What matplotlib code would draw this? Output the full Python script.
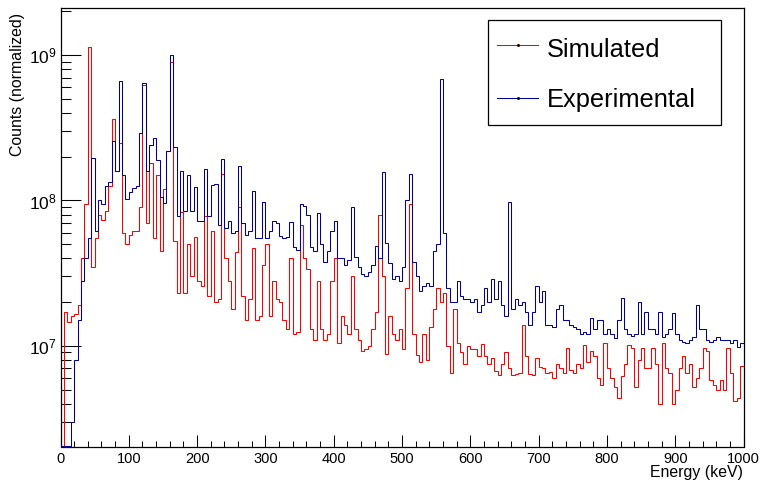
import numpy as np
import matplotlib
matplotlib.use("Agg")
import matplotlib.pyplot as plt
from matplotlib.patches import Rectangle
from matplotlib.lines import Line2D
from matplotlib.ticker import LogLocator, MultipleLocator, LogFormatterMathtext, NullFormatter

plt.rcParams['font.family'] = ['Liberation Sans', 'DejaVu Sans']
plt.rcParams['mathtext.fontset'] = 'custom'
plt.rcParams['mathtext.rm'] = 'Liberation Sans'
plt.rcParams['mathtext.it'] = 'Liberation Sans:italic'
plt.rcParams['mathtext.bf'] = 'Liberation Sans:bold'

# Histogram binning (keV)
bin_width = 5
energy_min, energy_max = 0, 1000

# Bin contents in units of 1e6 counts, one value per 5 keV bin
simulated = [
    0, 17, 14.5, 16, 16.5, 19, 40, 95, 1130, 35,
    55, 80, 73, 85, 125, 365, 160, 250, 60, 50,
    58, 62, 62, 90, 620, 70, 180, 55, 150, 45,
    120, 220, 900, 53, 23, 83, 23, 50, 30, 56,
    28, 26, 78, 22, 62, 20, 21, 152, 40, 28,
    18, 44, 90, 22, 15, 21, 47, 15, 16, 36,
    50, 16, 28, 21, 20, 15, 13, 40, 12, 12.5,
    68, 40, 34, 13, 11, 28, 13, 11, 12, 28,
    40, 10.5, 16, 14, 12, 30, 13, 11, 9.2, 9.5,
    10, 13, 17, 80, 30, 8.8, 16, 12, 11, 13,
    9.5, 25, 95, 12, 8.7, 7.7, 12, 8, 13.5, 18,
    25, 20, 23, 10, 6.5, 18, 10.4, 9, 7.5, 10,
    9.5, 9.5, 8.5, 10.3, 8.5, 7.5, 8.2, 6.7, 6.3, 7.5,
    9, 7, 6.3, 6.4, 6.5, 14, 8.5, 6.4, 6.3, 8.3,
    7.2, 7, 6.5, 6.6, 6, 7.5, 7, 6.5, 9.6, 6.8,
    6.5, 7.5, 7, 10.2, 7.8, 9.2, 8.5, 6, 5.4, 10.4,
    7, 6, 5.2, 4.4, 6.2, 7.5, 10.2, 9.6, 5.2, 8,
    9.6, 7, 7, 9.6, 7.5, 4.0, 10.4, 7, 6.5, 4.0,
    5, 7, 8.5, 6.5, 7.5, 5.2, 6, 7, 9.6, 9.2,
    5.8, 5.4, 5, 5.8, 5, 9.6, 6.5, 4.2, 4.4, 7.3,
]

experimental = [
    0, 0, 0, 3, 8, 15, 28, 40, 55, 195,
    62, 100, 95, 125, 135, 255, 160, 660, 150, 103,
    115, 122, 125, 290, 640, 160, 240, 270, 190, 105,
    96, 220, 1000, 235, 78, 160, 85, 150, 85, 123,
    72, 72, 165, 78, 127, 130, 68, 193, 65, 72,
    60, 62, 173, 70, 58, 62, 116, 55, 55, 97,
    55, 62, 72, 70, 57, 55, 56, 71, 48, 46,
    95, 92, 80, 48, 45, 82, 50, 38, 45, 62,
    72, 40, 40, 36, 39, 90, 41, 35, 31, 30,
    32, 36, 49, 40, 157, 51, 37, 29, 30, 28,
    35, 100, 152, 38, 30, 24, 26, 27, 26, 45,
    50, 690, 60, 25, 20, 20, 28, 22, 21, 21,
    20, 21, 17, 19, 25, 20, 29, 21, 28, 19,
    16, 97, 18, 21, 19, 20, 17, 14, 17, 26,
    20, 24, 14, 14, 13.5, 18, 19, 15, 15, 14,
    13.5, 13, 12, 12.5, 12, 15.5, 13, 15, 15, 12,
    13, 12, 11.3, 15, 21.5, 13, 12, 11.7, 12, 20,
    12, 17, 13, 13, 12, 17, 11.5, 12, 13, 16.8,
    12, 11, 10.7, 10.5, 11, 11.5, 19, 13, 13, 11,
    10.7, 11, 11.5, 11, 11, 11, 10.5, 11, 9.8, 10.5,
]

series_labels = ["Simulated", "Experimental"]
series_colors = ["#ff0000", "#000099"]
x_title = "Energy (keV)"
y_title = "Counts (normalized)"

y_min, y_max = 2.03e6, 2.1e9

W, H = 763, 482
fig = plt.figure(figsize=(W / 100, H / 100), dpi=100)


def fx(px):
    return px / W


def fy(py):
    return 1 - py / H


ax = fig.add_axes([fx(60.5), fy(446.5), fx(743.5) - fx(60.5), fy(8.3) - fy(446.5)])

edges = np.arange(energy_min, energy_max + bin_width, bin_width)
sim_counts = np.asarray(simulated, dtype=float) * 1e6
exp_counts = np.asarray(experimental, dtype=float) * 1e6

# Empty bins are drawn on the floor of the log axis
ax.stairs(np.maximum(sim_counts, y_min), edges, baseline=None,
          color=series_colors[0], lw=0.75, zorder=2)
ax.stairs(np.maximum(exp_counts, y_min), edges, baseline=None,
          color=series_colors[1], lw=0.75, zorder=3)

ax.set_xlim(energy_min, energy_max)
ax.set_yscale('log')
ax.set_ylim(y_min, y_max)

ax.xaxis.set_major_locator(MultipleLocator(100))
ax.xaxis.set_minor_locator(MultipleLocator(20))
ax.yaxis.set_major_locator(LogLocator(base=10, numticks=12))
ax.yaxis.set_minor_locator(LogLocator(base=10, subs=np.arange(2, 10), numticks=12))
ax.yaxis.set_major_formatter(LogFormatterMathtext())
ax.yaxis.set_minor_formatter(NullFormatter())

ax.tick_params(which='both', direction='in', top=False, right=False,
               width=0.75, color='black', labelsize=10.5, pad=4)
ax.tick_params(axis='y', which='major', labelsize=12.5, pad=3)
ax.tick_params(axis='x', which='major', length=8.6)
ax.tick_params(axis='x', which='minor', length=4.3)
ax.tick_params(axis='y', which='major', length=14.4)
ax.tick_params(axis='y', which='minor', length=7.2)
for sp in ax.spines.values():
    sp.set_linewidth(0.9)
    sp.set_color('black')

fig.text(fx(743.5), fy(465.5), x_title, ha='right', va='top', fontsize=11.4)
fig.text(fx(17.5), fy(12.5), y_title, ha='center', va='top', rotation=90,
         fontsize=11.4)

# Legend box
fig.add_artist(Rectangle((fx(488), fy(125)), fx(721) - fx(488), fy(20) - fy(125),
                         transform=fig.transFigure, fill=True, facecolor='white',
                         edgecolor='black', lw=0.9, zorder=5))
for label, color, line_y, base_y in zip(series_labels, series_colors,
                                         [45.0, 98.5], [56.7, 107.3]):
    fig.add_artist(Line2D([fx(497), fx(538)], [fy(line_y), fy(line_y)],
                          transform=fig.transFigure, color=color, lw=0.75, zorder=6))
    fig.add_artist(Line2D([fx(517.5)], [fy(line_y)], transform=fig.transFigure,
                          marker='s', markersize=1.0, color='black', lw=0, zorder=7))
    fig.text(fx(547), fy(base_y), label, ha='left', va='baseline',
             fontsize=18.3, zorder=7)

fig.savefig('out.png', dpi=100)
